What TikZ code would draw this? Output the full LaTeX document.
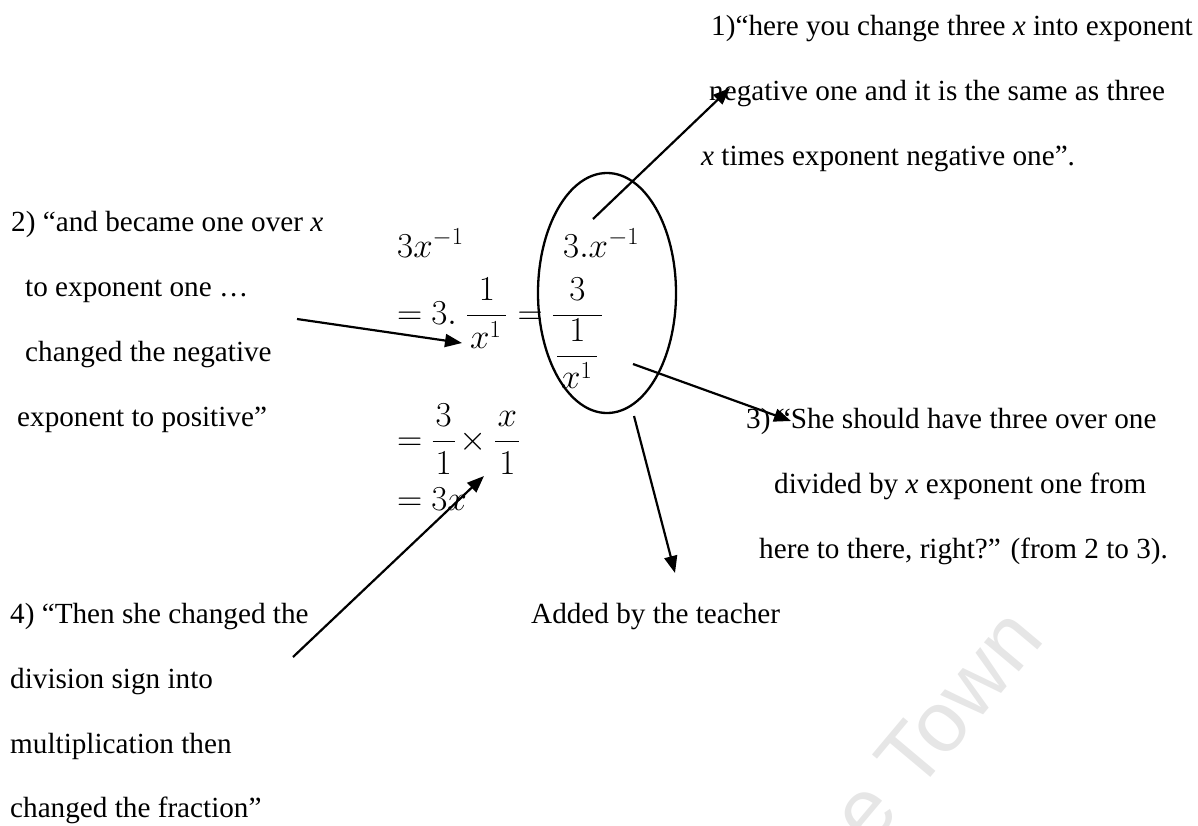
\RequirePackage{fix-cm}
\documentclass[tikz,border=0pt]{standalone}
\usepackage{amsmath}
\usepackage[no-math]{fontspec}
\setmainfont{Liberation Serif}
\newfontfamily\wmfont{Liberation Sans}
\usetikzlibrary{arrows.meta,shapes.geometric}
\definecolor{wmgray}{RGB}{230,230,230}
\tikzset{
  txt/.style={anchor=base west, inner sep=0pt, font=\fontsize{29.2}{35}\selectfont},
  mth/.style={anchor=base west, inner sep=0pt, font=\fontsize{35}{40}\selectfont},
  arr/.style={line width=2.2pt, -{Triangle[length=17pt,width=13pt]}},
  oval/.style={draw, ellipse, line width=2.3pt, inner sep=0pt, minimum width=138pt, minimum height=240pt}
}
\begin{document}
\begin{tikzpicture}[x=1pt,y=-1pt]
\useasboundingbox (0,0) rectangle (1198,825);
% watermark (visible part)
\node[anchor=base east, inner sep=0pt, rotate=50, text=wmgray, font=\wmfont\fontsize{86}{94}\selectfont] (wm) at (1046,640) {e Town};
% top-right comment
\node[txt] (t1a) at (711,35) {1)“here you change three \textit{x} into exponent};
\node[txt] (t1b) at (709,100) {negative one and it is the same as three};
\node[txt] (t1c) at (701,165) {\textit{x} times exponent negative one”.};
% left comment 2
\node[txt] (t2a) at (11,231) {2) “and became one over \textit{x}};
\node[txt] (t2b) at (25,296) {to exponent one …};
\node[txt] (t2c) at (25,361) {changed the negative};
\node[txt] (t2d) at (17,426) {exponent to positive”};
% right comment 3
\node[txt] (t3a) at (746,428) {3) “She should have three over one};
\node[txt] (t3b) at (774,493) {divided by \textit{x} exponent one from};
\node[txt] (t3c) at (759,558) {here to there, right?” (from 2 to 3).};
% left comment 4
\node[txt] (t4a) at (10,623) {4) “Then she changed the};
\node[txt] (t4b) at (10,688) {division sign into};
\node[txt] (t4c) at (10,753) {multiplication then};
\node[txt] (t4d) at (10,817) {changed the fraction”};
% teacher
\node[txt] (teach) at (531,623) {Added by the teacher};
% mathematics
\node[mth] (m1) at (397,257) {$3x^{-1}$};
\node[mth] (m1b) at (563,257) {$3.x^{-1}$};
\node[mth] (m2) at (397,324) {$\mathord{=}\hspace{9pt}3.\hspace{9pt}\dfrac{1}{\hspace{3pt}x^{1}\hspace{5pt}}\hspace{10pt}\mathord{=}\hspace{9pt}\dfrac{3}{\hspace{3pt}\dfrac{1}{\hspace{4pt}x^{1}\hspace{5pt}}\hspace{3pt}}$};
\node[mth] (m3) at (397,450.5) {$\mathord{=}\hspace{9pt}\dfrac{\hspace{3pt}3\hspace{3pt}}{1}\hspace{4pt}\mathord{\times}\hspace{7pt}\dfrac{x}{\hspace{4pt}1\hspace{4pt}}$};
\node[mth] (m4) at (397,510) {$\mathord{=}\hspace{9pt}3x$};
% ellipse
\node[oval] (ring) at (607,293) {};
% connectors
\coordinate (a1s) at (593,219); \coordinate (a1e) at (730,88);
\coordinate (a2s) at (297,319); \coordinate (a2e) at (462,343);
\coordinate (a3s) at (633,364); \coordinate (a3e) at (791,421);
\coordinate (a4s) at (634,416); \coordinate (a4e) at (675,573);
\coordinate (a5s) at (293,657); \coordinate (a5e) at (484,476);
\draw[arr] (a1s) -- (a1e);
\draw[arr] (a2s) -- (a2e);
\draw[arr] (a3s) -- (a3e);
\draw[arr] (a4s) -- (a4e);
\draw[arr] (a5s) -- (a5e);
\end{tikzpicture}
\end{document}
